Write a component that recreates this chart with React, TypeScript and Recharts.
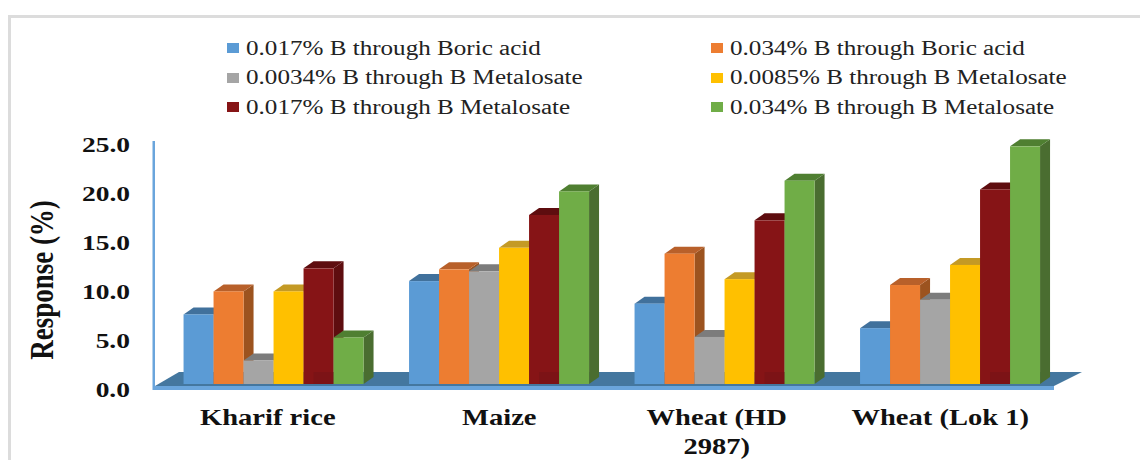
import { Bar, BarChart, Legend, ReferenceArea, XAxis, YAxis } from "recharts";

const categories = ["Kharif rice", "Maize", "Wheat (HD 2987)", "Wheat (Lok 1)"];
const seriesNames = [
  "0.017% B through Boric acid",
  "0.034% B through Boric acid",
  "0.0034% B through B Metalosate",
  "0.0085% B through B Metalosate",
  "0.017% B through B Metalosate",
  "0.034% B through B Metalosate",
];
const boric017 = [7.1, 10.5, 8.2, 5.7];
const boric034 = [9.45, 11.7, 13.3, 10.1];
const metal0034 = [2.4, 11.5, 4.8, 8.6];
const metal0085 = [9.45, 13.9, 10.7, 12.15];
const metal017 = [11.8, 17.25, 16.7, 19.85];
const metal034 = [4.75, 19.65, 20.75, 24.25];
const seriesValues = [boric017, boric034, metal0034, metal0085, metal017, metal034];
const yTicks = [0, 5, 10, 15, 20, 25];

const frontColors = ["#5b9bd5", "#ed7d31", "#a5a5a5", "#ffc000", "#861416", "#70ad47"];
const topColors = ["#41719c", "#b8602a", "#7c7c7c", "#c49a25", "#5e0d0f", "#4f7f31"];
const sideColors = ["#41719c", "#9c531f", "#7c7c7c", "#bf9000", "#5e0d0f", "#4a6d30"];

const data = categories.map((name, i) => {
  const row: Record<string, string | number> = { name };
  seriesNames.forEach((s, k) => {
    row[s] = seriesValues[k][i];
  });
  return row;
});

const DX = 10;
const DY = 7;
const SERIF = "'Liberation Serif', serif";

// the labels in the original sit a little left of their groups
const labelNudge: Record<string, number> = {
  "Kharif rice": -6,
  Maize: 0,
  "Wheat (HD 2987)": -8,
  "Wheat (Lok 1)": -10,
};

function Bar3D(props: any) {
  const { x, y, width, height, index } = props;
  const k = props.seriesIndex;
  if (index === undefined) return null;
  return (
    <g>
      <polygon
        points={`${x + width},${y} ${x + width + DX},${y - DY} ${x + width + DX},${y + height - DY} ${x + width},${y + height}`}
        fill={sideColors[k]}
      />
      <polygon
        points={`${x},${y} ${x + DX},${y - DY} ${x + width + DX},${y - DY} ${x + width},${y}`}
        fill={topColors[k]}
      />
      <rect x={x} y={y} width={width} height={height} fill={frontColors[k]} />
      {k === 4 && <rect x={x + DX} y={y + height - 12} width={width - DX} height={12} fill="#7c1316" />}
    </g>
  );
}

function Floor(props: any) {
  const { x, y, width, height } = props;
  const bottom = y + height;
  const right = x + width;
  return (
    <g>
      <polygon
        points={`${x - 6},${bottom + 2} ${x + 18},${bottom - 12} ${right + 19},${bottom - 12} ${right - 9},${bottom + 2}`}
        fill="#44779f"
      />
      <rect x={x - 8} y={bottom + 2} width={width - 1} height={4} fill="#6aa5dc" />
      <rect x={x - 8.5} y={y + 2} width={2.5} height={height + 4} fill="#6aa5dc" />
    </g>
  );
}

function YTick({ x, y, payload }: any) {
  return (
    <text
      transform={`translate(${x - 23},${y + 12.5}) scale(1.25,1)`}
      textAnchor="end"
      fontFamily={SERIF}
      fontWeight="bold"
      fontSize={22}
      fill="#111"
    >
      {payload.value.toFixed(1)}
    </text>
  );
}

function XTick({ x, payload }: any) {
  // the long wheat label wraps onto a second line
  const lines = payload.value === "Wheat (HD 2987)" ? ["Wheat (HD", "2987)"] : [payload.value];
  const nudge = labelNudge[payload.value] ?? 0;
  return (
    <g>
      {lines.map((line: string, i: number) => (
        <text
          key={line}
          transform={`translate(${x + nudge},${425 + i * 29}) scale(1.27,1)`}
          textAnchor="middle"
          fontFamily={SERIF}
          fontWeight="bold"
          fontSize={22.5}
          fill="#111"
        >
          {line}
        </text>
      ))}
    </g>
  );
}

function YTitle() {
  return (
    <text
      transform="translate(53,280) rotate(-90) scale(1,1.25)"
      textAnchor="middle"
      fontFamily={SERIF}
      fontWeight="bold"
      fontSize={27}
      fill="#111"
    >
      Response (%)
    </text>
  );
}

function LegendBlock() {
  return (
    <div style={{ position: "relative", height: 0 }}>
      {seriesNames.map((name, i) => (
        <div
          key={name}
          style={{
            position: "absolute",
            left: i % 2 === 0 ? 227 : 711,
            top: 33 + Math.floor(i / 2) * 29.5,
            whiteSpace: "nowrap",
            height: 30,
            display: "flex",
            alignItems: "center",
          }}
        >
          <span style={{ width: 12, height: 10, background: frontColors[i], display: "inline-block" }} />
          <span
            style={{
              marginLeft: 7,
              fontFamily: SERIF,
              fontSize: 20,
              color: "#222",
              transform: "scaleX(1.255)",
              transformOrigin: "left center",
            }}
          >
            {name}
          </span>
        </div>
      ))}
    </div>
  );
}

export default function App() {
  return (
    <div style={{ position: "absolute", left: 0, top: 0, width: 1140, height: 460, background: "#fff", overflow: "hidden" }}>
      <div style={{ position: "absolute", left: 8, top: 15, width: 1200, height: 3, background: "#dcdcdc" }} />
      <div style={{ position: "absolute", left: 8, top: 15, width: 3, height: 460, background: "#dcdcdc" }} />
      <BarChart
        width={1140}
        height={460}
        data={data}
        margin={{ top: 139, right: 77, bottom: 0, left: 0 }}
        barCategoryGap="10%"
        barGap={0}
      >
        <XAxis dataKey="name" height={76} interval={0} axisLine={false} tickLine={false} tick={<XTick />} />
        <YAxis
          width={161}
          domain={[0, 25]}
          ticks={yTicks}
          axisLine={false}
          tickLine={false}
          tick={<YTick />}
          label={<YTitle />}
        />
        <ReferenceArea y1={0} y2={25} shape={<Floor />} ifOverflow="visible" />
        <Legend
          content={<LegendBlock />}
          wrapperStyle={{ left: 0, top: 0, width: 1140, height: 0 }}
        />
        {seriesNames.map((name, k) => (
          <Bar
            key={name}
            dataKey={name}
            isAnimationActive={false}
            fill={frontColors[k]}
            shape={(p: any) => <Bar3D {...p} seriesIndex={k} />}
          />
        ))}
      </BarChart>
    </div>
  );
}
